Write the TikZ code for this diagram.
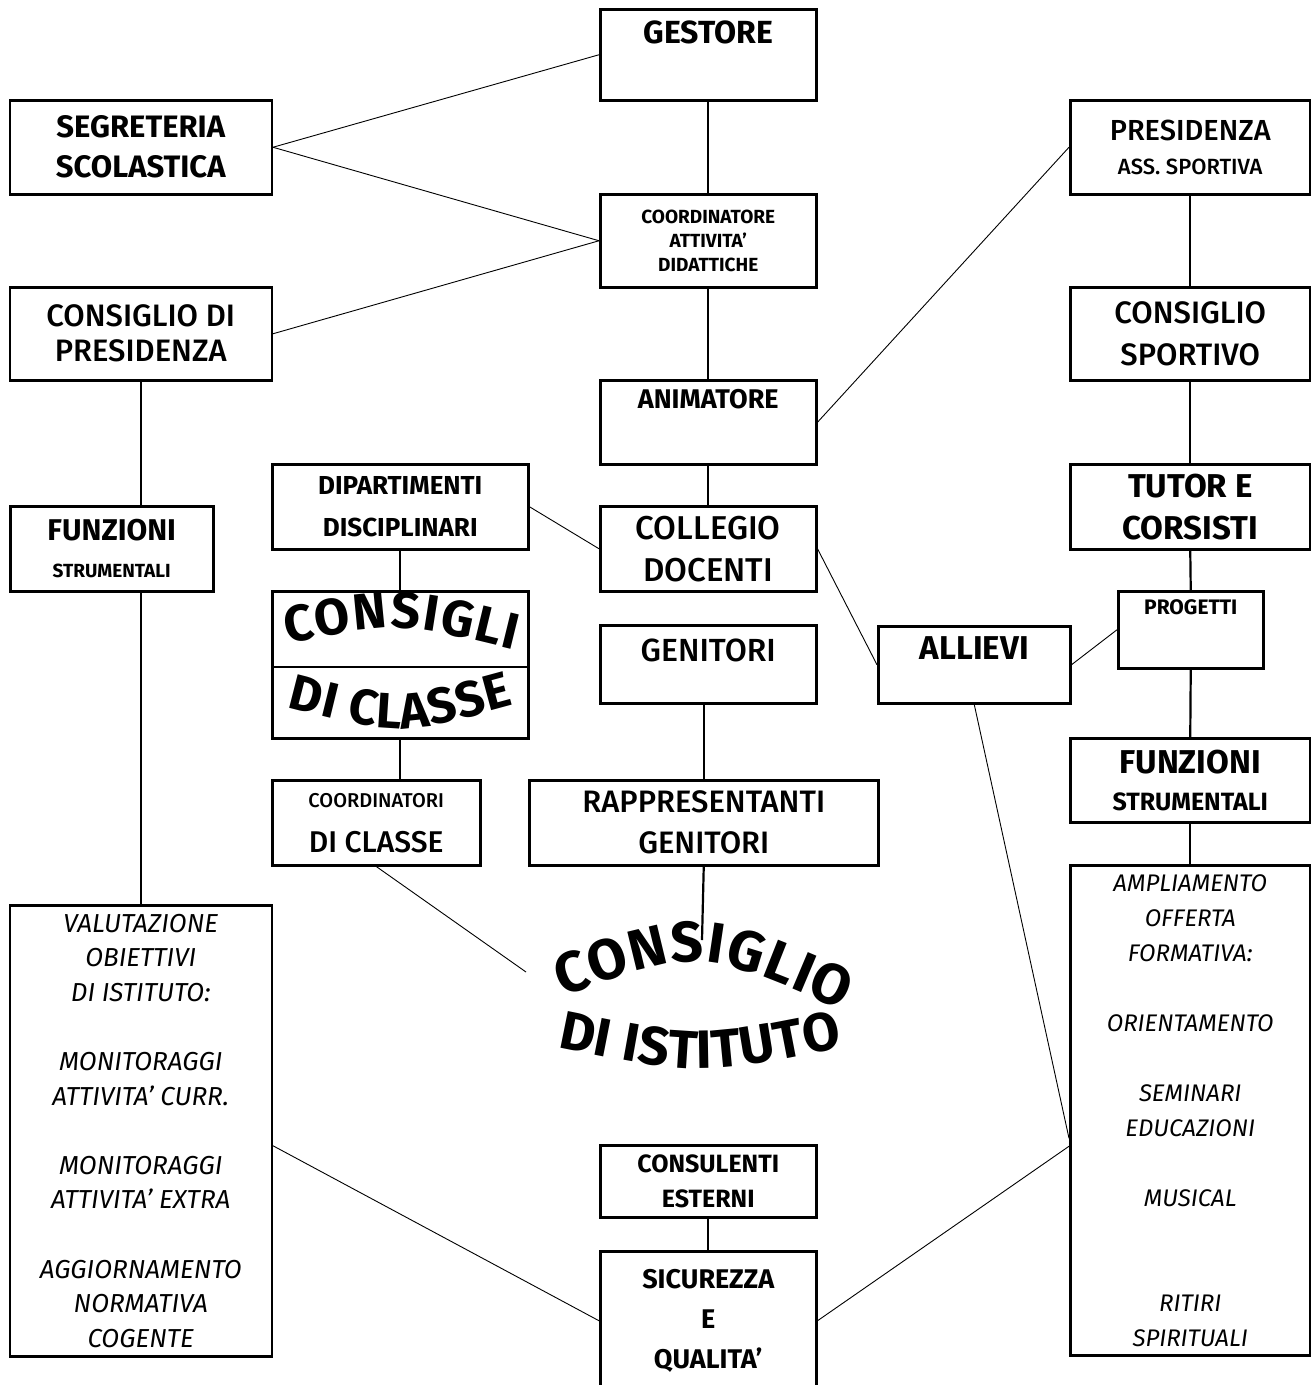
\documentclass[tikz,border=0pt]{standalone}
\usepackage{fontspec}
\setmainfont{Fira Sans}
\IfFontExistsTF{Fira Sans Medium}{\newfontfamily\medfont{Fira Sans Medium}[Ligatures=TeX]}{\newcommand\medfont{\relax}}
\usetikzlibrary{decorations.text}
\newcommand\fsz[2]{\fontsize{#1}{#2}\selectfont}

\begin{document}
\begin{tikzpicture}[x=1pt, y=-1pt,
  box/.style={draw, line width=2.5pt, inner sep=0pt, anchor=north west, align=center},
  wh/.style 2 args={minimum width=#1pt, minimum height=#2pt},
  tie/.style={line width=2.2pt},
  diag/.style={line width=0.9pt},
  wordart/.style 2 args={decorate, decoration={text along path, text align=fit to path, text={|\fsz{#1}{#1}\bfseries|#2}}}]
  \useasboundingbox (0,0) rectangle (1310,1385);

  % centre column
  \node[box, wh={216}{91}, text height=34pt, text depth=57pt, font=\fsz{32}{32}\bfseries] (gestore) at (599,8) {GESTORE};
  \node[box, wh={216}{93}, font=\fsz{19}{24}\bfseries] (coordatt) at (599,193) {COORDINATORE\\ATTIVITA'\\DIDATTICHE};
  \node[box, wh={216}{84}, text height=28pt, text depth=56pt, font=\fsz{27}{27}\bfseries] (animatore) at (599,379) {ANIMATORE};
  \node[box, wh={216}{85}, font=\fsz{33}{42}\medfont] (collegio) at (599,505) {COLLEGIO\\DOCENTI};
  \node[box, wh={216}{78}, text height=36pt, text depth=42pt, font=\fsz{32}{32}\medfont] (genitori) at (599,624) {GENITORI};
  \node[box, wh={349}{85}, font=\fsz{31}{41}\medfont] (rappgen) at (528,779) {RAPPRESENTANTI\\GENITORI};
  \node[box, wh={216}{72}, font=\fsz{25}{35}\bfseries] (consulenti) at (599,1144) {CONSULENTI\\ESTERNI};
  \node[box, wh={216}{139}, font=\fsz{27}{40}\bfseries] (sicurezza) at (599,1250) {SICUREZZA\\E\\QUALITA'};

  % left column
  \node[box, wh={262}{94}, font=\fsz{31}{40}\bfseries] (segreteria) at (8.5,99) {SEGRETERIA\\SCOLASTICA};
  \node[box, wh={262}{93}, font=\fsz{31}{35}\medfont] (conspres) at (8.5,286) {CONSIGLIO DI\\PRESIDENZA};
  \node[box, wh={203}{85}, font=\fsz{30}{37}\bfseries] (funzsx) at (9,505) {FUNZIONI\\{\fsz{19}{19}STRUMENTALI}};
  \node[box, wh={262}{451}, font=\fsz{26}{34.6}\itshape] (valutazione) at (8.5,904)
    {VALUTAZIONE\\OBIETTIVI\\DI ISTITUTO:\\ \\MONITORAGGI\\ATTIVITA' CURR.\\ \\MONITORAGGI\\ATTIVITA' EXTRA\\ \\AGGIORNAMENTO\\NORMATIVA\\COGENTE};

  % second column
  \node[box, wh={256}{85}, font=\fsz{26}{42}\bfseries] (dipart) at (271,463) {DIPARTIMENTI\\DISCIPLINARI};
  \node[box, wh={256}{147}] (consigli) at (271,590) {};
  \node[box, wh={208}{85}, font=\fsz{30}{45}\medfont] (coordcl) at (271,779) {{\fsz{20}{20}COORDINATORI}\\DI CLASSE};

  % right column
  \node[box, wh={240}{94}, font=\fsz{29}{34}\medfont] (presass) at (1069,99) {PRESIDENZA\\{\fsz{22}{22}ASS. SPORTIVA}};
  \node[box, wh={240}{93}, font=\fsz{31}{42}\medfont] (conssport) at (1069,286) {CONSIGLIO\\SPORTIVO};
  \node[box, wh={240}{85}, font=\fsz{33}{42}\bfseries] (tutor) at (1069,463) {TUTOR E\\CORSISTI};
  \node[box, wh={145}{77}, text height=23pt, text depth=54pt, font=\fsz{21}{21}\bfseries] (progetti) at (1117,590) {PROGETTI};
  \node[box, wh={192}{77}, text height=33pt, text depth=44pt, font=\fsz{33}{33}\bfseries] (allievi) at (877,625) {ALLIEVI};
  \node[box, wh={240}{84}, font=\fsz{33}{37}\bfseries] (funzdx) at (1069,737) {FUNZIONI\\{\fsz{25}{25}STRUMENTALI}};
  \node[box, wh={240}{490}, font=\fsz{24}{35}\itshape] (ampliamento) at (1069,864)
    {AMPLIAMENTO\\OFFERTA\\FORMATIVA:\\ \\ORIENTAMENTO\\ \\SEMINARI\\EDUCAZIONI\\ \\MUSICAL\\ \\ \\RITIRI\\SPIRITUALI};

  \coordinate (istituto) at (702,940);
  \coordinate (wordart) at (526,972);

  % word art titles
  \draw[line width=2.5pt] ([yshift=-77pt]consigli.north west) -- ([yshift=-77pt]consigli.north east);
  \path[wordart={51}{CONSIGLI}] (287,643) .. controls (400,622) .. (514,650);
  \path[wordart={50}{DI CLASSE}] (287,707) .. controls (400,736) .. (514,705);
  \path[wordart={57}{CONSIGLIO}] (562,996) .. controls (700,948) .. (842,1010);
  \path[wordart={54}{DI ISTITUTO}] (557,1047) .. controls (700,1076) .. (843,1047);

  % vertical links
  \draw[tie] (gestore.south) -- (coordatt.north);
  \draw[tie] (coordatt.south) -- (animatore.north);
  \draw[tie] (animatore.south) -- (collegio.north);
  \draw[tie] (presass.south) -- (conssport.north);
  \draw[tie] (conssport.south) -- (tutor.north);
  \draw[tie] (tutor.south) -- (progetti.north);
  \draw[tie] (progetti.south) -- (funzdx.north);
  \draw[tie] (funzdx.south) -- (ampliamento.north);
  \draw[tie] (conspres.south) -- (conspres.south |- funzsx.north);
  \draw[tie] (conspres.south |- funzsx.south) -- (valutazione.north);
  \draw[tie] (dipart.south) -- (consigli.north);
  \draw[tie] (consigli.south) -- (consigli.south |- coordcl.north);
  \draw[tie] (rappgen.north |- genitori.south) -- (rappgen.north);
  \draw[tie] (rappgen.south) -- (istituto);
  \draw[tie] (consulenti.south) -- (sicurezza.north);

  % slanted links
  \draw[diag] (segreteria.east) -- (gestore.west);
  \draw[diag] (segreteria.east) -- (coordatt.west);
  \draw[diag] (conspres.east) -- (coordatt.west);
  \draw[diag] (animatore.east) -- (presass.west);
  \draw[diag] (dipart.east) -- (collegio.west);
  \draw[diag] (collegio.east) -- (allievi.west);
  \draw[diag] (allievi.east) -- (progetti.west);
  \draw[diag] (allievi.south) -- ([yshift=-28pt]ampliamento.west);
  \draw[diag] (coordcl.south) -- (wordart);
  \draw[diag] ([yshift=-15pt]valutazione.east) -- (sicurezza.west);
  \draw[diag] (sicurezza.east) -- ([yshift=-36pt]ampliamento.west);
\end{tikzpicture}
\end{document}
